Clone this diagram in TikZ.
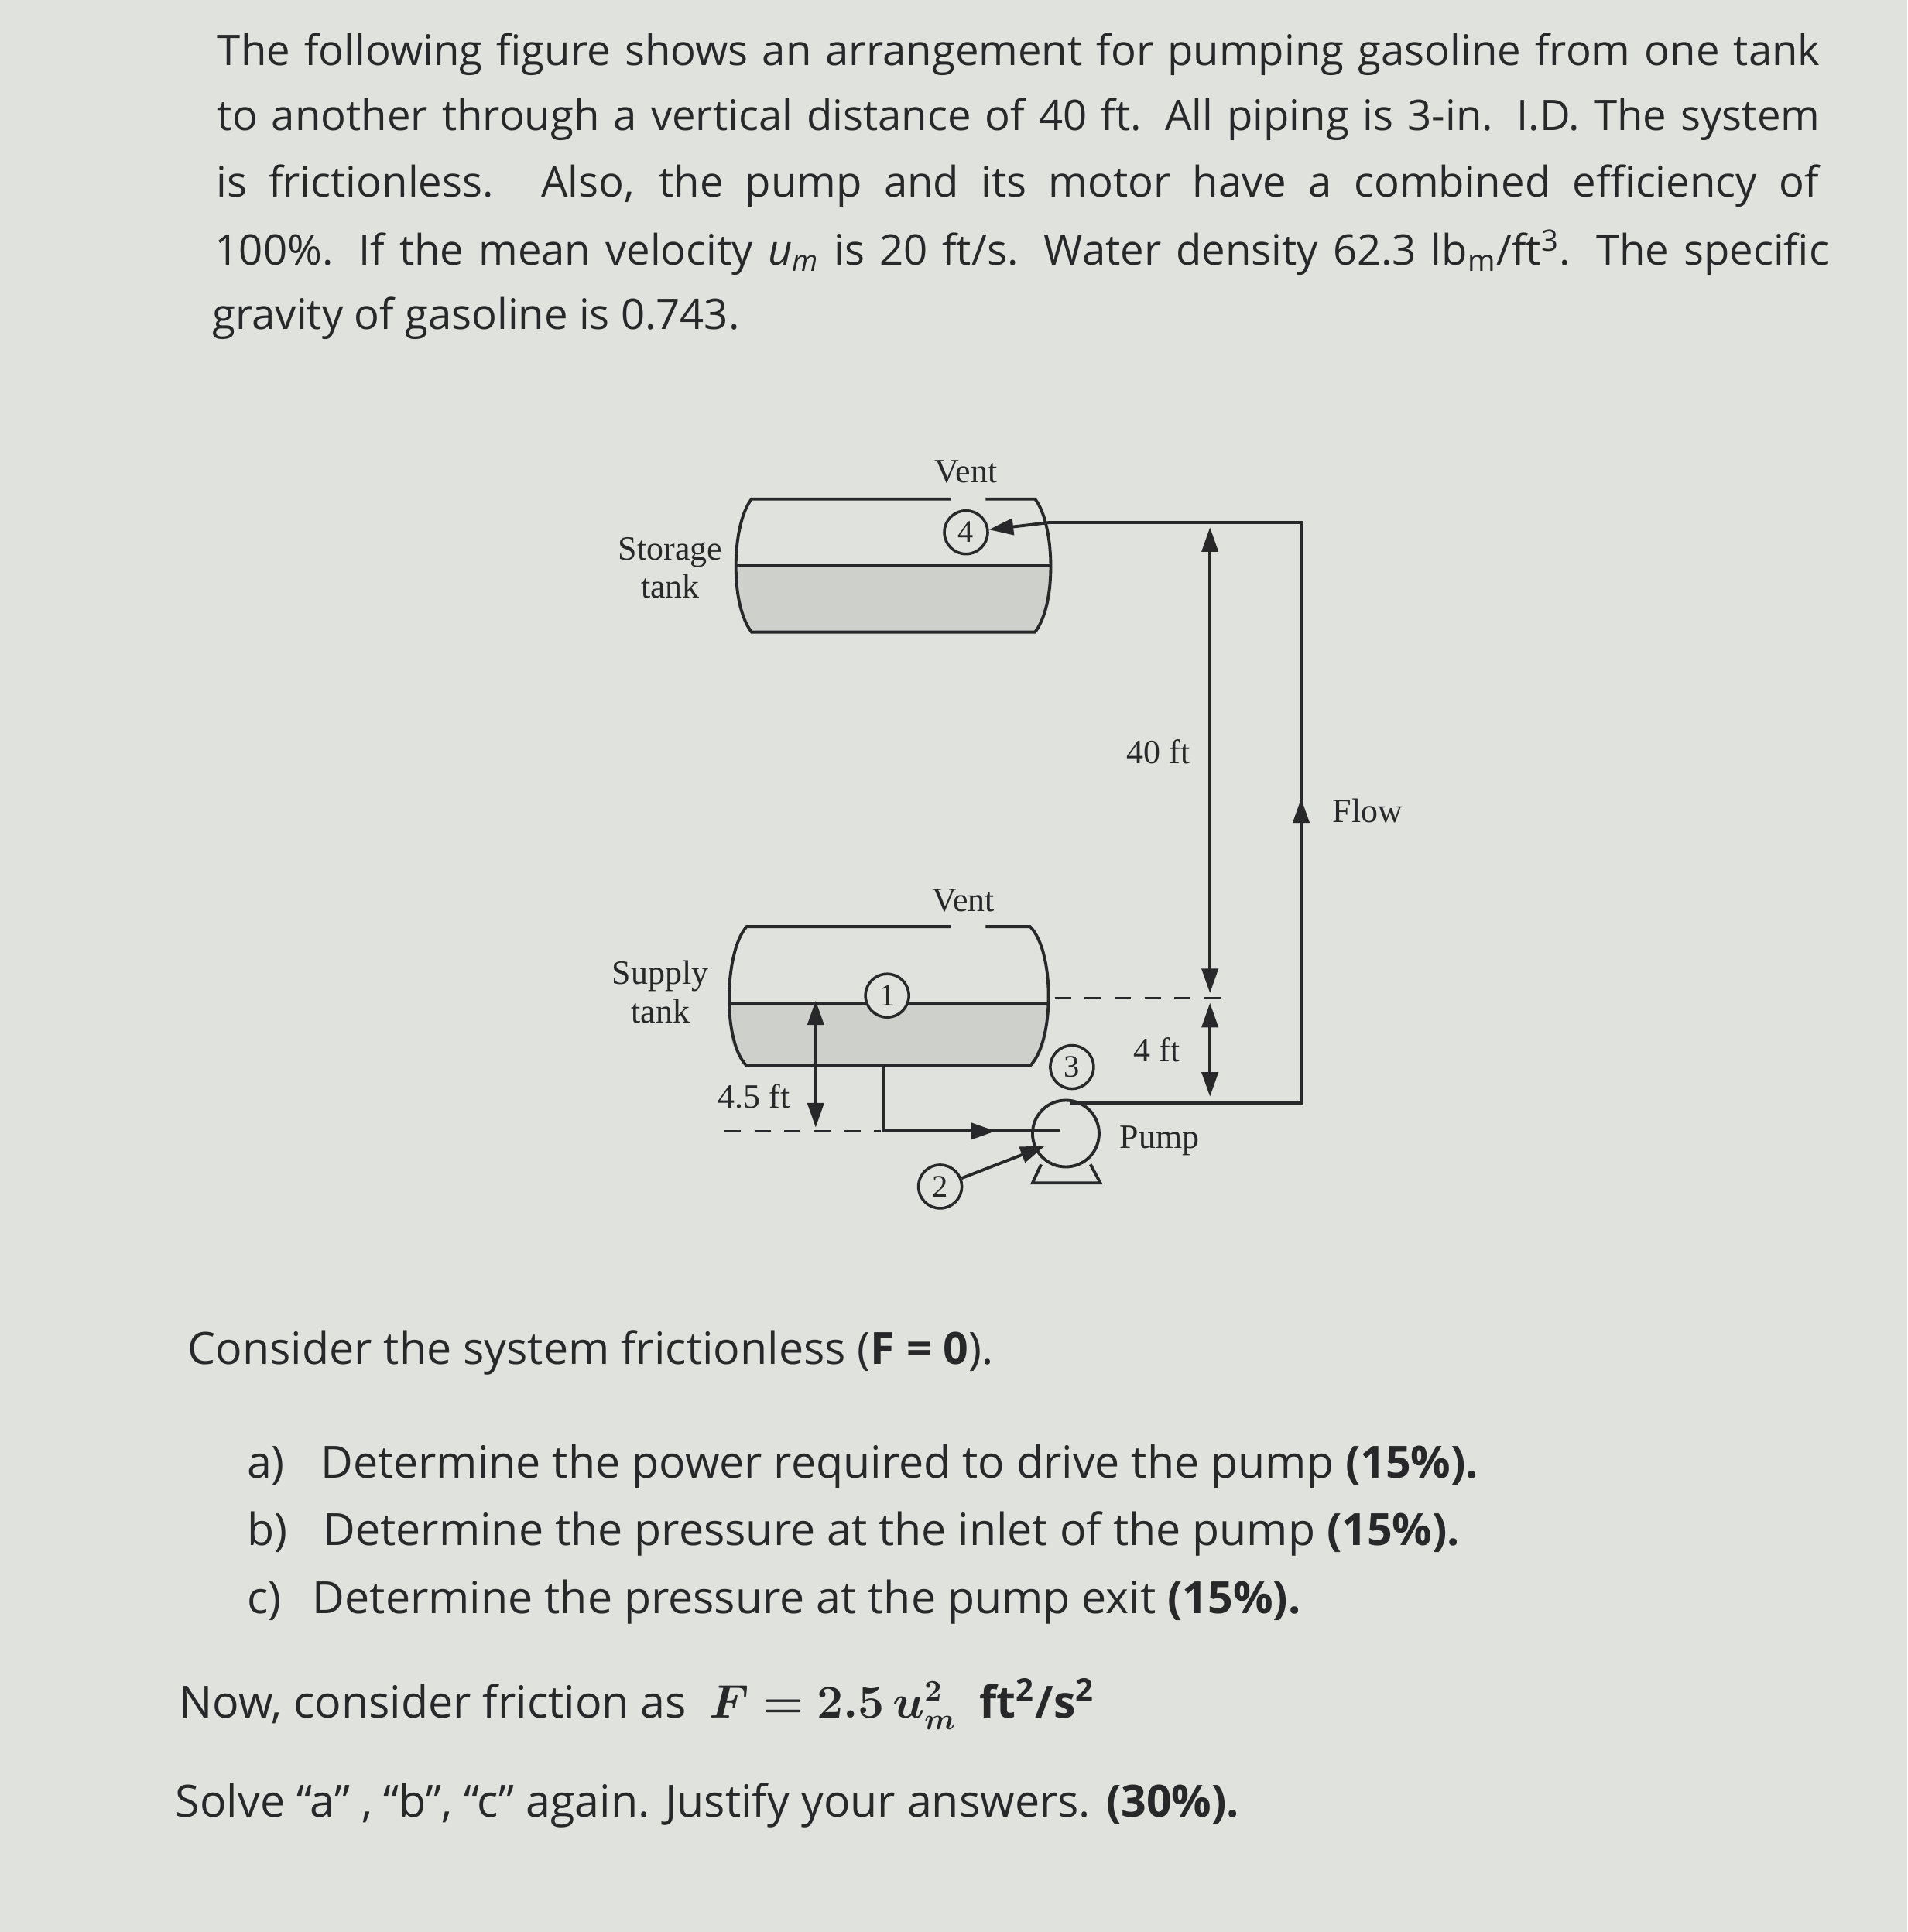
\documentclass[tikz,border=0pt]{standalone}
\usepackage{amsmath,bm}
\usepackage{fontspec}
\setmainfont{Liberation Serif}
\newfontfamily\txt{Open Sans}
\usetikzlibrary{arrows.meta}
\definecolor{bg}{RGB}{224,226,221}
\definecolor{ink}{RGB}{40,40,42}
\definecolor{liq}{RGB}{206,208,204}
\begin{document}
\begin{tikzpicture}[x=0.015917cm,y=-0.015917cm,
  pipe/.style={draw=ink,line width=1.1pt},
  tip/.style={-{Triangle[length=9pt,width=6pt]}},
  dtip/.style={{Triangle[length=9pt,width=6pt]}-{Triangle[length=9pt,width=6pt]}},
  lab/.style={text=ink,font=\fontsize{12.5}{14}\selectfont,align=center,inner sep=1pt},
  pt/.style={circle,draw=ink,line width=1pt,minimum size=5.6mm,inner sep=0pt,text=ink,font=\fontsize{11.5}{12}\selectfont,fill=bg},
  para/.style={anchor=west,text=ink,inner sep=0pt,font=\txt\fontsize{15.5}{18}\selectfont},
  parb/.style={anchor=west,text=ink,inner sep=0pt,font=\txt\fontsize{16.3}{19}\selectfont},
  dsh/.style={draw=ink,line width=1pt,dash pattern=on 6pt off 5pt}]
\fill[bg] (0,0) rectangle (1548,1568);
\useasboundingbox (0,0) rectangle (1548,1568);
% paragraph
\node[para] (l1) at (176,44) {\makebox[20.7cm][s]{The following figure shows an arrangement for pumping gasoline from one tank}};
\node[para] (l2) at (176,97) {\makebox[20.7cm][s]{to another through a vertical distance of 40 ft. All piping is 3-in. I.D. The system}};
\node[para] (l3) at (175,151) {\makebox[20.7cm][s]{is frictionless. Also, the pump and its motor have a combined efficiency of}};
\node[para] (l4) at (174,205) {\makebox[20.85cm][s]{100\%. If the mean velocity \textit{u\textsubscript{m}} is 20 ft/s. Water density 62.3 lb\textsubscript{m}/ft\textsuperscript{3}. The specific}};
\node[para] (l5) at (172,258) {gravity of gasoline is 0.743.};
% storage tank
\fill[liq] (600,459) -- (852,459) .. controls (856,480) and (852,500) .. (840,513) -- (610,513) .. controls (598,500) and (596,480) .. (600,459) -- cycle;
\draw[pipe] (772,405) -- (610,405) .. controls (594,425) and (592,490) .. (610,513) -- (840,513) .. controls (858,490) and (856,425) .. (840,405) -- (800,405);
\draw[pipe] (598,459) -- (854,459);
\node[pt] (p4) at (784,432) {4};
\node[lab] (vent1) at (784,383) {Vent};
\node[lab] (st) at (544,461) {Storage\\tank};
% supply tank
\fill[liq] (594,815) -- (850,815) .. controls (852,840) and (848,855) .. (836,865) -- (606,865) .. controls (594,855) and (590,840) .. (594,815) -- cycle;
\draw[pipe] (772,752) -- (606,752) .. controls (588,772) and (586,845) .. (606,865) -- (836,865) .. controls (856,845) and (856,772) .. (836,752) -- (800,752);
\draw[pipe] (592,815) -- (852,815);
\node[pt] (p1) at (720,808) {1};
\node[lab] (vent2) at (782,731) {Vent};
\node[lab] (su) at (536,805) {Supply\\tank};
% pump
\node[circle,draw=ink,line width=1.1pt,minimum size=8.6mm,inner sep=0pt] (pump) at (865,920) {};
\draw[pipe] (845,945) -- (838,960) -- (893,960) -- (885,945);
\node[lab] (pl) at (941,926) {Pump};
% suction pipe
\coordinate (s0) at (717,865);
\coordinate (s1) at (717,918);
\coordinate (s2) at (860,918);
\draw[pipe] (s0) -- (s1) -- (s2);
\draw[pipe,tip] (s1) -- (808,918);
\node[pt] (p2) at (763,963) {2};
\draw[pipe,tip] (p2) -- (848,930);
\node[pt] (p3) at (870,866) {3};
% discharge pipe
\coordinate (d0) at (868,895);
\coordinate (d1) at (1056,895);
\coordinate (d2) at (1056,424);
\coordinate (d3) at (852,424);
\draw[pipe] (d0) -- (d1) -- (d2) -- (d3);
\draw[pipe,tip] (d3) -- (p4);
\draw[pipe,tip] (d1) -- (1056,648);
\node[lab] (flow) at (1110,658) {Flow};
% dimensions
\coordinate (t40) at (982,428);
\coordinate (b40) at (982,806);
\coordinate (b4) at (982,890);
\draw[pipe,dtip] (t40) -- (b40);
\draw[pipe,dtip] (982,814) -- (b4);
\node[lab,fill=bg] (f40) at (940,610) {40 ft};
\node[lab] (f4) at (939,852) {4 ft};
\draw[dsh] (856,810) -- (996,810);
\draw[pipe,dtip] (662,812) -- (662,915);
\node[lab] (f45) at (612,890) {4.5 ft};
\draw[dsh] (588,918) -- (715,918);
% questions
\node[parb] (q0) at (152,1098) {Consider the system frictionless (\textbf{F = 0}).};
\node[parb] (qa) at (200,1190) {a)\hspace{0.55em} Determine the power required to drive the pump \textbf{(15\%).}};
\node[parb] (qb) at (200,1245) {b)\hspace{0.55em} Determine the pressure at the inlet of the pump \textbf{(15\%).}};
\node[parb] (qc) at (200,1300) {c)\hspace{0.45em} Determine the pressure at the pump exit \textbf{(15\%).}};
\node[parb] (qn) at (145,1383) {Now, consider friction as \ $\bm{F = 2.5\,u_m^2}$\ \ \textbf{ft\textsuperscript{2}/s\textsuperscript{2}}};
\node[parb] (qs) at (142,1465) {Solve “a” , “b”, “c” again. Justify your answers. \textbf{(30\%).}};
\end{tikzpicture}
\end{document}
